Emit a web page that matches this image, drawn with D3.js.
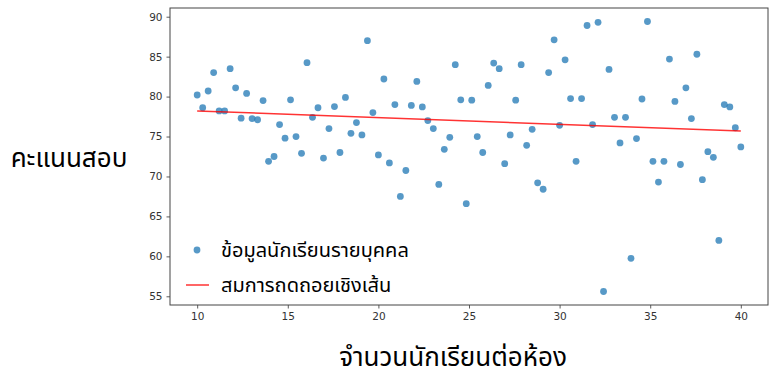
<!DOCTYPE html>
<html><head><meta charset="utf-8">
<script src="https://cdn.jsdelivr.net/npm/d3@7"></script>
<style>
body{margin:0;background:#fff;}
svg{display:block;}
</style></head>
<body><svg id="c" width="781" height="381"></svg>
<script>
const scores = [80.2,78.6,80.7,83.0,78.2,78.2,83.5,81.1,77.3,80.4,
77.25,77.1,79.5,71.9,72.5,76.5,74.8,79.6,75.0,72.9,
84.25,77.4,78.6,72.3,76.0,78.75,73.0,79.9,75.4,76.75,
75.2,87.0,78.0,72.7,82.2,71.7,79.0,67.5,70.75,78.9,
81.9,78.7,77.0,76.0,69.0,73.4,74.9,84.0,79.6,66.6,
79.55,75.0,73.0,81.4,84.2,83.5,71.6,75.2,79.55,84.0,
73.9,75.9,69.2,68.4,83.0,87.1,76.4,84.6,79.75,71.9,
79.75,88.9,76.5,89.3,55.6,83.4,77.4,74.2,77.4,59.75,
74.75,79.7,89.4,71.9,69.3,71.9,84.7,79.4,71.5,81.1,
77.25,85.3,69.6,73.1,72.4,62.0,79.0,78.7,76.1,73.7];
const classSizes = scores.map((_, i) => 10 + i * 30 / (scores.length - 1));
const xTicks = [10,15,20,25,30,35,40];
const yTicks = [55,60,65,70,75,80,85,90];
const legendLabels = ["ข้อมูลนักเรียนรายบุคคล","สมการถดถอยเชิงเส้น"];
const xTitle = "จำนวนนักเรียนต่อห้อง";
const yTitle = "คะแนนสอบ";

// least squares fit
const mx = d3.mean(classSizes), my = d3.mean(scores);
const slope = d3.sum(classSizes, (x,i)=>(x-mx)*(scores[i]-my)) / d3.sum(classSizes, x=>(x-mx)*(x-mx));
const intercept = my - slope*mx;
const fit = [10,40].map(x=>({x, y: intercept + slope*x}));

const svg = d3.select("#c");
const L=170, R=768, T=8, B=305;
const x = d3.scaleLinear().domain([8.5,41.5]).range([L,R]);
const yMin = d3.min(scores), yMax = d3.max(scores), pad=(yMax-yMin)*0.05;
const y = d3.scaleLinear().domain([yMin-pad, yMax+pad]).range([B,T]);

const thai = "Tahoma, 'Leelawadee UI', 'Noto Sans Thai', 'Noto Sans Thai UI', 'Noto Looped Thai', Garuda, Loma, sans-serif";

const gx = svg.append("g").attr("transform",`translate(0,${B})`)
  .call(d3.axisBottom(x).tickValues(xTicks).tickSize(3.5).tickPadding(4).tickFormat(d3.format("d")));
const gy = svg.append("g").attr("transform",`translate(${L},0)`)
  .call(d3.axisLeft(y).tickValues(yTicks).tickSize(3.5).tickPadding(4).tickFormat(d3.format("d")));
[gx,gy].forEach(g=>{
  g.select(".domain").remove();
  g.selectAll("line").attr("stroke","#333").attr("stroke-width",0.8);
  g.selectAll("text").attr("font-family","'DejaVu Sans', sans-serif").attr("font-size",10.5).attr("fill","#333");
});

svg.append("g").selectAll("circle").data(scores).join("circle")
  .attr("cx",(d,i)=>x(classSizes[i])).attr("cy",d=>y(d)).attr("r",3.4)
  .attr("fill","#1f77b4").attr("fill-opacity",0.75);

svg.append("path").datum(fit)
  .attr("d", d3.line().x(d=>x(d.x)).y(d=>y(d.y)))
  .attr("stroke","red").attr("stroke-opacity",0.8).attr("stroke-width",1.5).attr("fill","none");

svg.append("rect").attr("x",L).attr("y",T).attr("width",R-L).attr("height",B-T)
  .attr("fill","none").attr("stroke","#444").attr("stroke-width",1);

// legend
const lg = svg.append("g");
lg.append("circle").attr("cx",197).attr("cy",250).attr("r",3.4).attr("fill","#1f77b4").attr("fill-opacity",0.75);
lg.append("line").attr("x1",186).attr("x2",209).attr("y1",285).attr("y2",285)
  .attr("stroke","red").attr("stroke-opacity",0.8).attr("stroke-width",1.5);
lg.selectAll("text").data(legendLabels).join("text")
  .attr("x",221).attr("y",(d,i)=>257+i*35).text(d=>d)
  .attr("font-family",thai).attr("font-size",20).attr("fill","#000");

svg.append("text").attr("x",453).attr("y",366).attr("text-anchor","middle")
  .attr("font-family",thai).attr("font-size",26).text(xTitle);
svg.append("text").attr("x",69).attr("y",167).attr("text-anchor","middle")
  .attr("font-family",thai).attr("font-size",26).text(yTitle);
</script></body></html>
